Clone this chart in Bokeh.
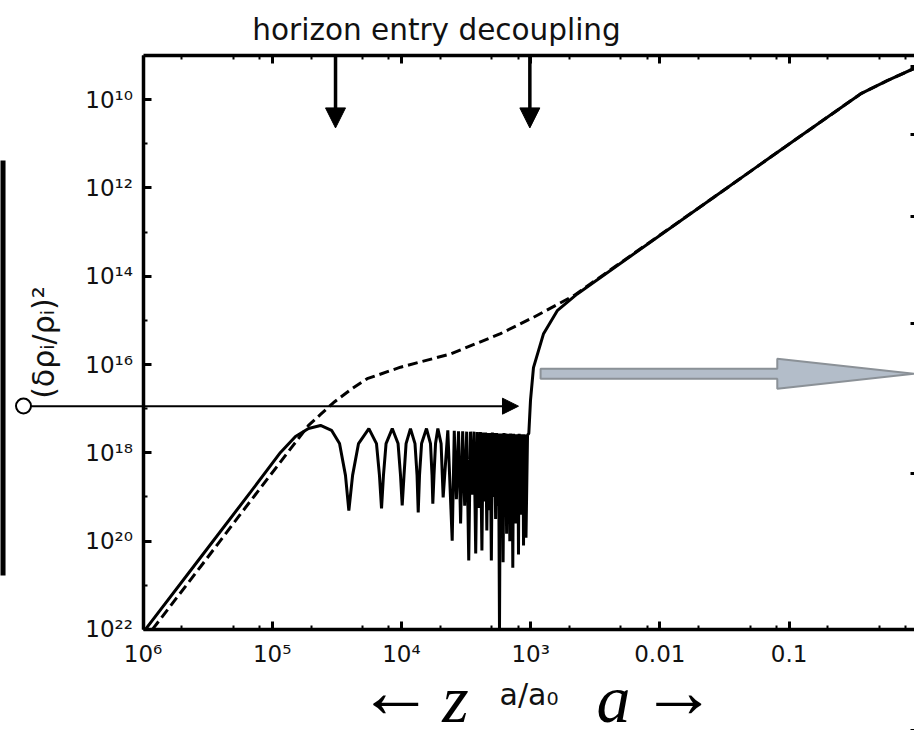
import numpy as np
from bokeh.plotting import figure
from bokeh.models import (FixedTicker, LogAxis, LinearAxis, Range1d, Arrow,
                          NormalHead, Label, BoxAnnotation, CustomJSTickFormatter)
from bokeh.embed import file_html
from bokeh.resources import INLINE

# ---------------------------------------------------------------------------
# Curves, stored as log10(a/a0) and log10((delta rho / rho)^2)
# solid: baryon-photon fluid (acoustic oscillations until decoupling)
solid_log_a = [
    -5.981, -5.555, -5.168, -4.936, -4.820, -4.719, -4.626, -4.541, -4.479, -4.433, -4.407,
    -4.378, -4.332, -4.252, -4.193, -4.170, -4.154,
    -4.139, -4.119, -4.071, -4.026, -4.007, -3.994,
    -3.980, -3.964, -3.930, -3.895, -3.879, -3.870,
    -3.860, -3.844, -3.806, -3.775, -3.763, -3.757,
    -3.748, -3.736, -3.718, -3.693, -3.677,
    -3.641, -3.607, -3.591, -3.5745, -3.558, -3.542, -3.526, -3.5105, -3.495, -3.479,
    -3.4655, -3.452, -3.4385, -3.425, -3.413, -3.401, -3.389, -3.377,
    -3.3675, -3.358, -3.3485, -3.339, -3.330, -3.3215, -3.313, -3.304,
    -3.296, -3.2875, -3.279, -3.271, -3.2635, -3.256, -3.2485, -3.241,
    -3.234, -3.227, -3.220, -3.213, -3.206, -3.1995, -3.193, -3.186,
    -3.180, -3.1735, -3.167, -3.161, -3.155, -3.1495, -3.144, -3.138,
    -3.132, -3.1265, -3.121, -3.115, -3.110, -3.1045, -3.099, -3.094,
    -3.089, -3.084, -3.079, -3.074, -3.069, -3.0645, -3.060, -3.055,
    -3.050, -3.0455, -3.041, -3.036,
    -3.024, -3.014, -3.001, -2.978, -2.900, -2.794, -2.639, -1.582, -0.963, -0.704,
    -0.447, -0.240, 0.000,
]
solid_log_power = [
    -22.00, -20.37, -18.89, -17.99, -17.63, -17.45, -17.38, -17.49, -17.79, -18.51, -19.31,
    -18.51, -17.79, -17.45, -17.79, -18.51, -19.26,
    -18.51, -17.79, -17.45, -17.79, -18.51, -19.19,
    -18.51, -17.79, -17.45, -17.79, -18.51, -19.35,
    -18.51, -17.79, -17.45, -17.79, -18.51, -19.15,
    -18.51, -17.79, -17.45, -17.79, -19.01,
    -17.49, -19.99, -17.50, -19.05, -17.51, -19.60, -17.51, -19.20, -17.52, -20.44,
    -17.52, -18.95, -17.52, -20.28, -17.53, -19.25, -17.53, -20.21,
    -17.54, -19.10, -17.54, -19.76, -17.55, -19.30, -17.55, -20.44,
    -17.54, -19.00, -17.55, -19.50, -17.55, -19.20, -17.56, -22.00,
    -17.56, -19.15, -17.56, -20.48, -17.55, -19.05, -17.56, -19.83,
    -17.57, -19.25, -17.57, -20.00, -17.56, -19.10, -17.57, -20.60,
    -17.57, -19.20, -17.58, -19.60, -17.58, -19.00, -17.58, -20.30,
    -17.57, -19.15, -17.58, -19.40, -17.58, -19.25, -17.58, -20.10,
    -17.58, -19.10, -17.59, -19.92,
    -17.60, -17.56, -16.81, -16.07, -15.30, -14.78, -14.40, -12.21, -10.93, -10.40,
    -9.87, -9.57, -9.25,
]
# dashed: dark matter
dashed_log_a = [
    -5.927, -5.555, -5.168, -4.835, -4.719, -4.626, -4.525, -4.394, -4.265, -4.007,
    -3.620, -3.233, -2.978, -2.666, -1.582, -0.963, -0.704, -0.447, -0.240, 0.000,
]
dashed_log_power = [
    -22.00, -20.58, -19.09, -17.82, -17.38, -17.13, -16.86, -16.57, -16.32, -16.06,
    -15.76, -15.30, -14.93, -14.44, -12.21, -10.93, -10.40, -9.87, -9.57, -9.25,
]

# epochs marked on top of the plot (log10 a/a0)
horizon_entry_log_a = -4.51
decoupling_log_a = -3.006

# tick labels
x_tick_values = [1e-6, 1e-5, 1e-4, 1e-3, 1e-2, 1e-1]
x_tick_labels = ["10⁶", "10⁵", "10⁴", "10³", "0.01", "0.1"]
y_tick_values = [1e-10, 1e-12, 1e-14, 1e-16, 1e-18, 1e-20, 1e-22]
y_tick_labels = ["10¹⁰", "10¹²", "10¹⁴", "10¹⁶", "10¹⁸", "10²⁰", "10²²"]

# ---------------------------------------------------------------------------
FONT = "DejaVu Sans"
SERIF = "Liberation Serif"
AX_X = (1e-6, 1.0)      # extent of the boxed axes
AX_Y = (1e-22, 1e-9)
# the data frame fills the whole page; the axes sit at fixed locations in it
X_LO, X_HI = -7.103, -0.029
Y_LO, Y_HI = -24.289, -7.754

p = figure(width=914, height=730, x_axis_type="log", y_axis_type="log",
           x_range=Range1d(10 ** X_LO, 10 ** X_HI),
           y_range=Range1d(10 ** Y_LO, 10 ** Y_HI),
           output_backend="svg", toolbar_location=None, min_border=0,
           outline_line_color=None, background_fill_color="white",
           border_fill_color="white")
p.title.visible = False
p.grid.visible = False

x_minor = [m * 10.0 ** k for k in range(-6, 0) for m in (2, 5, 8)]
y_minor = [10.0 ** k for k in range(-21, -9, 2)]
x_ticker = FixedTicker(ticks=x_tick_values, minor_ticks=x_minor)
y_ticker = FixedTicker(ticks=y_tick_values, minor_ticks=y_minor)


def labels_formatter(values, labels):
    """Map each tick (by its decade) to a fixed label."""
    table = {str(round(np.log10(v))): lab for v, lab in zip(values, labels)}
    return CustomJSTickFormatter(args=dict(table=table), code="""
        const k = String(Math.round(Math.log10(tick)));
        return (k in table) ? table[k] : "";
    """)


blank = CustomJSTickFormatter(code="return '';")


def style_axis(ax):
    ax.axis_line_width = 3.5
    ax.axis_line_color = "black"
    ax.major_tick_in = 8
    ax.major_tick_out = 0
    ax.minor_tick_in = 4
    ax.minor_tick_out = 0
    ax.major_tick_line_width = 3
    ax.minor_tick_line_width = 2
    ax.major_tick_line_color = "black"
    ax.minor_tick_line_color = "black"
    ax.major_label_text_font = FONT
    ax.major_label_text_font_size = "23px"
    ax.major_label_text_color = "#111111"
    ax.axis_label_text_font = FONT
    ax.axis_label_text_font_style = "normal"
    ax.axis_label_text_color = "#111111"


xa = p.xaxis[0]
xa.ticker = x_ticker
style_axis(xa)
xa.fixed_location = AX_Y[0]
xa.bounds = AX_X
xa.formatter = labels_formatter(x_tick_values, x_tick_labels)
xa.major_label_standoff = 12
xa.axis_label = "a/a₀"
xa.axis_label_text_font_size = "30px"
xa.axis_label_standoff = 6

ya = p.yaxis[0]
ya.ticker = y_ticker
style_axis(ya)
ya.fixed_location = AX_X[0]
ya.bounds = AX_Y
ya.formatter = labels_formatter(y_tick_values, y_tick_labels)
ya.major_label_standoff = 10
ya.axis_label = "(δρᵢ/ρᵢ)²"
ya.axis_label_text_font_size = "30px"
ya.axis_label_standoff = 22

# mirrored ticks along the top edge
top = LogAxis(ticker=x_ticker, formatter=blank, fixed_location=AX_Y[1], bounds=AX_X)
style_axis(top)
top.major_label_standoff = 0
p.add_layout(top, "above")

# secondary scale on the right edge (ticks only)
p.extra_y_ranges = {"right": Range1d(-2.141, 7.170)}
right = LinearAxis(y_range_name="right", formatter=blank,
                   fixed_location=AX_X[1], bounds=(-0.853, 6.468),
                   ticker=FixedTicker(ticks=list(range(0, 7)),
                                      minor_ticks=[k + 0.5 for k in range(-1, 7)]))
style_axis(right)
right.minor_tick_line_color = "#999999"
right.major_label_standoff = 0
p.add_layout(right, "right")

# curves
p.line(10 ** np.array(dashed_log_a), 10 ** np.array(dashed_log_power),
       line_color="black", line_width=3, line_dash="10 5")
p.line(10 ** np.array(solid_log_a), 10 ** np.array(solid_log_power),
       line_color="black", line_width=3)

# gray arrow pointing to the late-time growth
ga_y, ga_shaft, ga_head = -16.21, 0.113, 0.34
ga_x0, ga_xb, ga_xt = -2.923, -1.091, -0.03
ga_xs = [ga_x0, ga_xb, ga_xb, ga_xt, ga_xb, ga_xb, ga_x0]
ga_ys = [ga_y + ga_shaft, ga_y + ga_shaft, ga_y + ga_head, ga_y,
         ga_y - ga_head, ga_y - ga_shaft, ga_y - ga_shaft]
p.patch(10 ** np.array(ga_xs), 10 ** np.array(ga_ys),
        fill_color="#b3bdc9", line_color="#8b9197", line_width=2)

# epoch markers
for la in (horizon_entry_log_a, decoupling_log_a):
    p.add_layout(Arrow(end=NormalHead(size=20, fill_color="black", line_color="black"),
                       x_start=10 ** la, y_start=AX_Y[1],
                       x_end=10 ** la, y_end=10 ** -10.64,
                       line_color="black", line_width=3.5))
p.add_layout(Label(x=10 ** -3.728, y=10 ** -8.429, text="horizon entry decoupling",
                   text_font=FONT, text_font_size="29.5px", text_color="#111111",
                   text_align="center", text_baseline="alphabetic"))

# horizontal marker from the axis label to decoupling
p.add_layout(Arrow(end=NormalHead(size=16, fill_color="black", line_color="black"),
                   x_start=10 ** -6.867, y_start=10 ** -16.943,
                   x_end=10 ** -3.094, y_end=10 ** -16.943,
                   line_color="black", line_width=2))
p.add_layout(BoxAnnotation(left=10 ** -6.983, right=10 ** -6.867,
                           top=10 ** -16.769, bottom=10 ** -17.108,
                           border_radius=8, fill_color="white", fill_alpha=1,
                           line_color="black", line_alpha=1, line_width=2))
# bar along the left edge
p.add_layout(BoxAnnotation(left=10 ** -7.2, right=10 ** -7.064,
                           top=10 ** -11.378, bottom=10 ** -20.778,
                           fill_color="black", fill_alpha=1, line_color=None))

# direction hints under the axis: time runs backwards in z, forwards in a
for la, txt in ((-4.046, "←"), (-1.855, "→")):
    p.add_layout(Label(x=10 ** la, y=10 ** -23.405, text=txt,
                       text_font=SERIF, text_font_size="76px", text_color="black",
                       text_align="center", text_baseline="alphabetic"))
for la, txt in ((-3.581, "z"), (-2.358, "a")):
    p.add_layout(Label(x=10 ** la, y=10 ** -23.575, text=txt,
                       text_font=SERIF, text_font_style="italic",
                       text_font_size="68px", text_color="black",
                       text_align="center", text_baseline="alphabetic"))

open("out.html", "w").write(file_html(p, INLINE))
